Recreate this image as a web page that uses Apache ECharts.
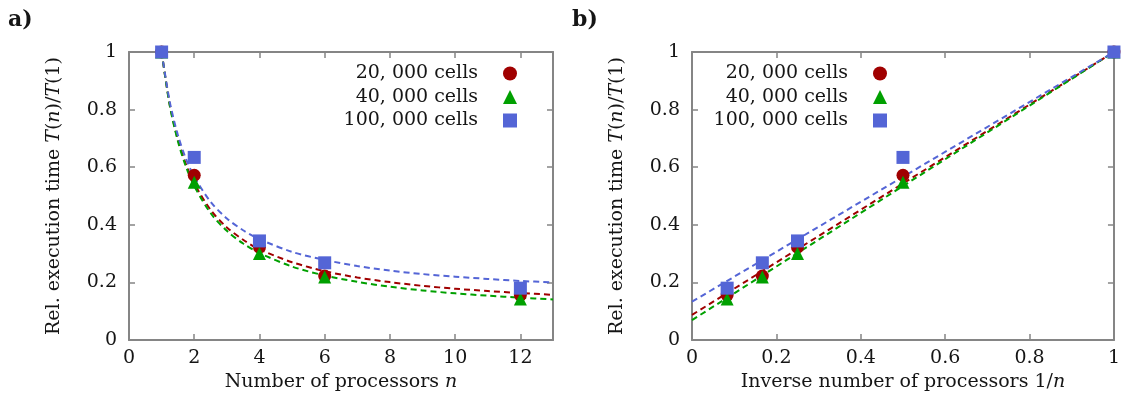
<!DOCTYPE html>
<html>
<head>
<meta charset="utf-8">
<script src="https://cdn.jsdelivr.net/npm/echarts@6/dist/echarts.min.js"></script>
<style>html,body{margin:0;padding:0;background:#fff}#c{width:1123px;height:404px}</style>
</head>
<body>
<div id="c"></div>
<script>
// ---- data ----
const seriesNames = ['20, 000 cells', '40, 000 cells', '100, 000 cells'];
const nProc = [1, 2, 4, 6, 12];
const invProc = [1, 0.5, 0.25, 0.1667, 0.0833];
const t20k = [1, 0.572, 0.322, 0.222, 0.156];
const t40k = [1, 0.548, 0.300, 0.219, 0.142];
const t100k = [1, 0.634, 0.344, 0.268, 0.180];
// fitted dashed curves, read off panel a)
const fitN = [1, 1.25, 1.5, 1.75, 2, 2.5, 3, 3.5, 4, 5, 6, 7, 8, 9, 10, 11, 12, 13];
const fit20k = [1, 0.817, 0.696, 0.609, 0.544, 0.452, 0.391, 0.348, 0.315, 0.270, 0.239, 0.217, 0.201, 0.188, 0.178, 0.170, 0.163, 0.157];
const fit40k = [1, 0.814, 0.690, 0.601, 0.535, 0.441, 0.379, 0.335, 0.302, 0.255, 0.224, 0.202, 0.185, 0.172, 0.162, 0.154, 0.147, 0.141];
const fit100k = [1, 0.827, 0.711, 0.628, 0.567, 0.480, 0.422, 0.381, 0.350, 0.306, 0.278, 0.257, 0.241, 0.229, 0.220, 0.212, 0.205, 0.200];
// fitted straight lines, panel b): values at 1/n = 0 and 1/n = 1
const fitInvX = [0, 1];
const fitInv20k = [0.087, 1];
const fitInv40k = [0.069, 1];
const fitInv100k = [0.133, 1];
// tick labels
const xTicksA = [0, 2, 4, 6, 8, 10, 12];
const xTicksB = [0, 0.2, 0.4, 0.6, 0.8, 1];
const yTicks = [0, 0.2, 0.4, 0.6, 0.8, 1];

const colors = ['#a00000', '#00a000', '#5465d6'];
const symbols = ['circle', 'triangle', 'rect'];
const FONT = 'DejaVu Serif';
const FS = 19;
const TXT = '#151515';
const AX = '#858585';

function zip(xs, ys) { return xs.map((x, i) => [x, ys[i]]); }

function nameStyle() {
  return { fontFamily: FONT, fontSize: FS, color: TXT,
    rich: { i: { fontFamily: FONT, fontSize: FS, fontStyle: 'italic', color: TXT } } };
}
function xAxisCfg(gridIndex, max, ticks, pos, name) {
  return {
    type: 'value', gridIndex, min: 0, max, position: pos,
    name: name || '', nameLocation: 'middle', nameGap: 32,
    nameTextStyle: nameStyle(),
    axisLine: { show: true, onZero: false, lineStyle: { color: AX, width: 2 } },
    axisTick: { show: true, inside: true, length: 6, customValues: ticks, lineStyle: { color: AX, width: 1.5 } },
    axisLabel: { show: pos === 'bottom', customValues: ticks, margin: 9, fontFamily: FONT, fontSize: FS, color: TXT },
    splitLine: { show: false }
  };
}
function yAxisCfg(gridIndex, pos, name) {
  return {
    type: 'value', gridIndex, min: 0, max: 1, position: pos,
    name: name || '', nameLocation: 'middle', nameGap: 65,
    nameTextStyle: nameStyle(),
    axisLine: { show: true, onZero: false, lineStyle: { color: AX, width: 2 } },
    axisTick: { show: true, inside: true, length: 6, customValues: yTicks, lineStyle: { color: AX, width: 1.5 } },
    axisLabel: { show: pos === 'left', customValues: yTicks, margin: 12, fontFamily: FONT, fontSize: FS, color: TXT },
    splitLine: { show: false }
  };
}

const yName = 'Rel. execution time {i|T}({i|n})/{i|T}(1)';
const measured = [t20k, t40k, t100k];
const fitsA = [fit20k, fit40k, fit100k];
const fitsB = [fitInv20k, fitInv40k, fitInv100k];

const series = [];
// dashed fits (drawn below markers)
for (let k = 0; k < 3; k++) {
  series.push({ name: 'fitA' + k, type: 'line', xAxisIndex: 0, yAxisIndex: 0, data: zip(fitN, fitsA[k]),
    smooth: 0.3, symbol: 'none', silent: true, z: 2,
    lineStyle: { color: colors[k], width: 2, type: [6, 4] } });
  series.push({ name: 'fitB' + k, type: 'line', xAxisIndex: 2, yAxisIndex: 2, data: zip(fitInvX, fitsB[k]),
    symbol: 'none', silent: true, z: 2,
    lineStyle: { color: colors[k], width: 2, type: [6, 4] } });
}
for (let k = 0; k < 3; k++) {
  series.push({ name: seriesNames[k], type: 'scatter', xAxisIndex: 0, yAxisIndex: 0, data: zip(nProc, measured[k]),
    symbol: symbols[k], symbolSize: 13, itemStyle: { color: colors[k], opacity: 1 }, z: 3 + k });
  series.push({ name: seriesNames[k], type: 'scatter', xAxisIndex: 2, yAxisIndex: 2, data: zip(invProc, measured[k]),
    symbol: symbols[k], symbolSize: 13, itemStyle: { color: colors[k], opacity: 1 }, z: 3 + k });
}

const legendBase = {
  data: seriesNames, orient: 'vertical', align: 'right', itemWidth: 14, itemHeight: 14, itemGap: 4.5,
  selectedMode: false, textStyle: { fontFamily: FONT, fontSize: FS, color: TXT, padding: [0, 20, 0, 0] }, padding: 0
};

const option = {
  animation: false,
  backgroundColor: '#fff',
  title: [
    { text: 'a)', left: 8, top: 9, padding: 0, textStyle: { fontFamily: FONT, fontSize: 22, fontWeight: 'bold', color: TXT } },
    { text: 'b)', left: 572, top: 9, padding: 0, textStyle: { fontFamily: FONT, fontSize: 22, fontWeight: 'bold', color: TXT } }
  ],
  legend: [
    Object.assign({}, legendBase, { right: 606, top: 64 }),
    Object.assign({}, legendBase, { right: 236, top: 64 })
  ],
  grid: [
    { left: 129, top: 52, width: 424, height: 288 },
    { left: 692, top: 52, width: 425, height: 288 }
  ],
  xAxis: [
    xAxisCfg(0, 13, xTicksA, 'bottom', 'Number of processors {i|n}'),
    xAxisCfg(0, 13, xTicksA, 'top'),
    xAxisCfg(1, 1, xTicksB, 'bottom', 'Inverse number of processors 1/{i|n}'),
    xAxisCfg(1, 1, xTicksB, 'top')
  ],
  yAxis: [
    yAxisCfg(0, 'left', yName),
    yAxisCfg(0, 'right'),
    yAxisCfg(1, 'left', yName),
    yAxisCfg(1, 'right')
  ],
  series
};
const chart = echarts.init(document.getElementById('c'), null, { renderer: 'canvas' });
chart.setOption(option);
</script>
</body>
</html>
